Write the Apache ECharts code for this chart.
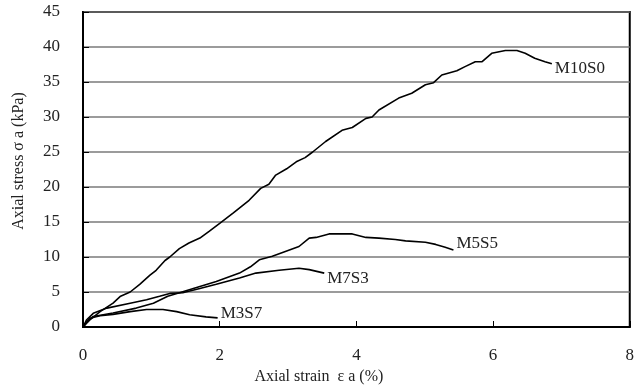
<!DOCTYPE html>
<html>
<head>
<meta charset="utf-8">
<script src="https://cdn.jsdelivr.net/npm/echarts@6/dist/echarts.min.js"></script>
<style>
  html, body { margin: 0; padding: 0; background: #fff; }
  #chart { width: 637px; height: 390px; }
</style>
</head>
<body>
<div id="chart"></div>
<script>
// Stress–strain curves, [axial strain %, axial stress kPa]
const m10s0 = [[0,0],[0.1,1.0],[0.25,2.2],[0.44,3.4],[0.55,4.4],[0.69,5.0],[0.83,6.1],[0.98,7.4],[1.07,8.1],[1.2,9.5],[1.27,10.0],[1.41,11.2],[1.55,12.0],[1.71,12.7],[1.85,13.7],[2.0,14.8],[2.2,16.3],[2.43,18.1],[2.6,19.8],[2.72,20.4],[2.82,21.7],[2.98,22.6],[3.12,23.6],[3.25,24.2],[3.36,25.0],[3.55,26.5],[3.79,28.1],[3.94,28.5],[4.14,29.8],[4.23,30.0],[4.33,31.0],[4.62,32.7],[4.81,33.4],[5.01,34.6],[5.13,34.9],[5.25,36.0],[5.47,36.6],[5.59,37.2],[5.74,37.9],[5.84,37.9],[5.98,39.1],[6.18,39.5],[6.35,39.5],[6.47,39.1],[6.61,38.4],[6.76,37.9],[6.86,37.6]];
const m5s5 = [[0,0],[0.06,0.8],[0.15,1.5],[0.44,2.0],[0.78,2.7],[1.03,3.4],[1.24,4.4],[1.46,5.05],[1.71,5.8],[1.95,6.5],[2.29,7.7],[2.45,8.6],[2.58,9.6],[2.77,10.1],[3.02,11.0],[3.16,11.5],[3.31,12.7],[3.41,12.8],[3.6,13.3],[3.94,13.3],[4.14,12.8],[4.33,12.7],[4.57,12.5],[4.72,12.3],[5.01,12.1],[5.16,11.8],[5.3,11.4],[5.42,11.0]];
const m7s3 = [[0,0],[0.05,1.0],[0.15,1.95],[0.35,2.7],[0.69,3.4],[0.93,3.9],[1.12,4.4],[1.27,4.8],[1.46,4.9],[1.71,5.5],[1.95,6.1],[2.29,7.0],[2.53,7.7],[2.87,8.1],[3.16,8.4],[3.31,8.2],[3.53,7.7]];
const m3s7 = [[0,0],[0.1,1.24],[0.25,1.6],[0.44,1.8],[0.69,2.2],[0.93,2.5],[1.17,2.5],[1.37,2.2],[1.56,1.75],[1.8,1.45],[1.97,1.3]];

const seriesNames = ['M10S0', 'M5S5', 'M7S3', 'M3S7'];
const seriesData = [m10s0, m5s5, m7s3, m3s7];
const labelOffsets = [[0, 5], [0, -6], [0, 5], [0, -4]];

const xTitle = 'Axial strain  ε a (%)';
const yTitle = 'Axial stress σ a (kPa)';

const FONT = '"Liberation Serif", "Times New Roman", serif';

const chart = echarts.init(document.getElementById('chart'), null, { renderer: 'canvas' });

chart.setOption({
  animation: false,
  backgroundColor: '#ffffff',
  grid: {
    left: 83, top: 12, right: 5, bottom: 63,
    show: true, borderColor: '#000', borderWidth: 2
  },
  xAxis: {
    type: 'value', min: 0, max: 8, interval: 2,
    name: xTitle, nameLocation: 'middle', nameGap: 42,
    nameTextStyle: { fontFamily: FONT, fontSize: 16, color: '#222', padding: [0, 75, 0, 0] },
    axisLine: { show: true, lineStyle: { color: '#000', width: 2 } },
    axisTick: { show: true, inside: true, length: 6, lineStyle: { color: '#000', width: 1 } },
    axisLabel: { fontFamily: FONT, fontSize: 17, color: '#222', margin: 20 },
    splitLine: { show: false }
  },
  yAxis: {
    type: 'value', min: 0, max: 45, interval: 5,
    name: yTitle, nameLocation: 'middle', nameGap: 56, nameRotate: 90,
    nameTextStyle: { fontFamily: FONT, fontSize: 16, color: '#222', padding: [0, 0, 0, 17] },
    axisLine: { show: true, lineStyle: { color: '#000', width: 2 } },
    axisTick: { show: true, inside: true, length: 6, lineStyle: { color: '#000', width: 1 } },
    axisLabel: { fontFamily: FONT, fontSize: 17, color: '#222', margin: 23 },
    splitLine: { show: true, lineStyle: { color: '#7a7a7a', width: 1.5 } }
  },
  series: seriesNames.map((name, i) => ({
    name: name,
    type: 'line',
    data: seriesData[i],
    showSymbol: false,
    smooth: false,
    lineStyle: { color: '#000', width: 1.6 },
    endLabel: {
      show: true,
      formatter: '{a}',
      distance: 3,
      offset: labelOffsets[i],
      fontFamily: FONT,
      fontSize: 17,
      color: '#222'
    }
  }))
});
</script>
</body>
</html>
